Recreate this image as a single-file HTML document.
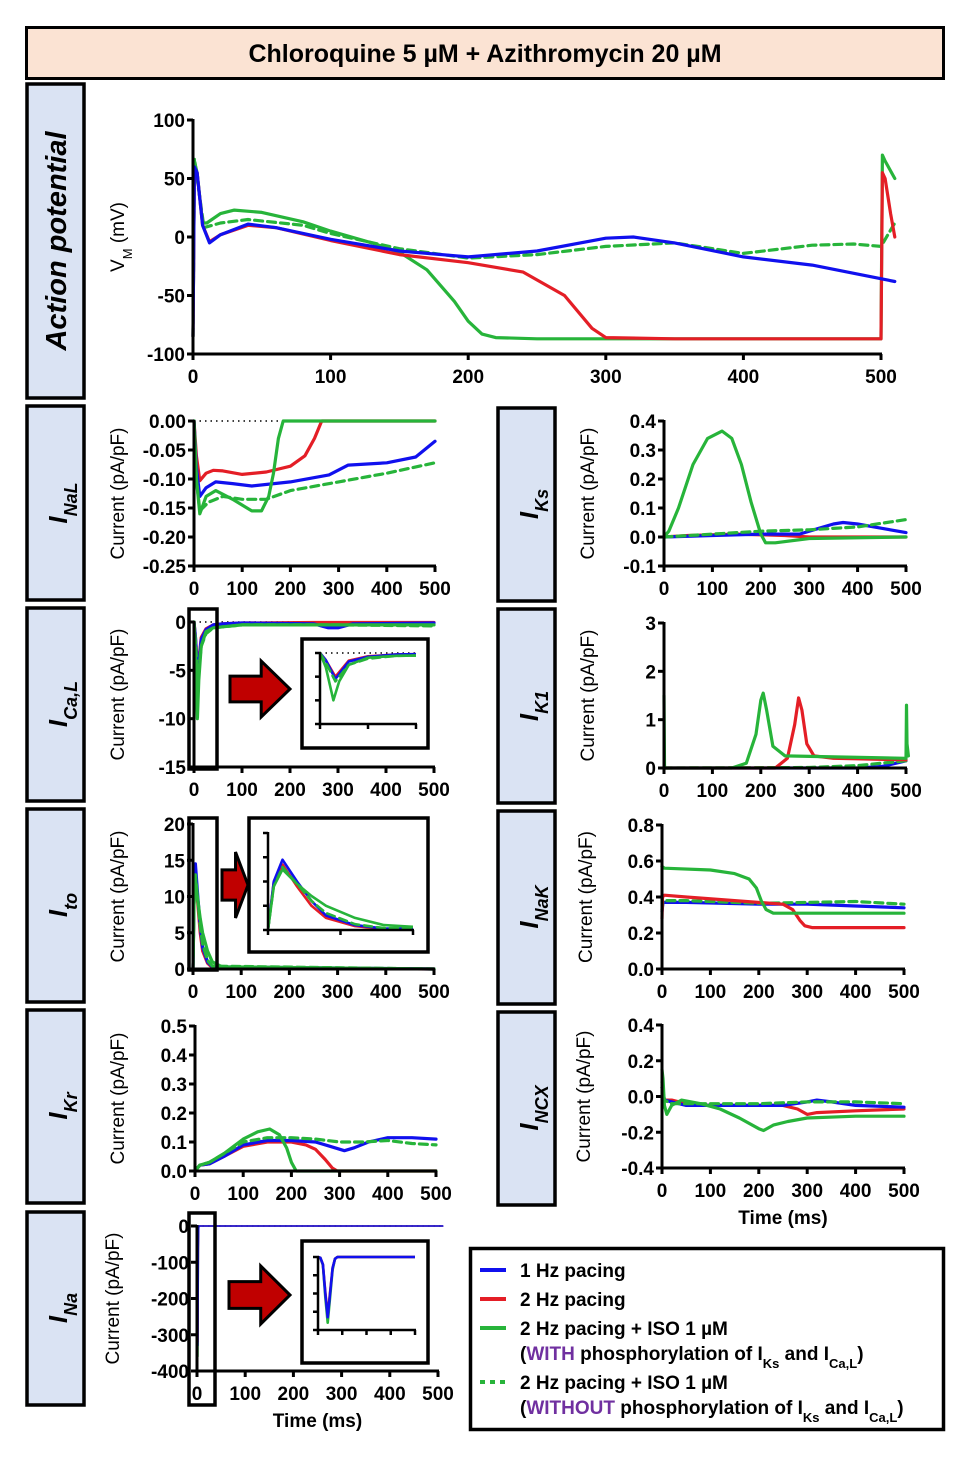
<!DOCTYPE html>
<html><head><meta charset="utf-8"><style>
html,body{margin:0;padding:0;background:#fff}
svg{display:block}
text{font-family:"Liberation Sans",Arial,sans-serif}
.tk{font-weight:bold;font-size:19px}
.yl{font-size:19px}
.lb{font-weight:bold;font-style:italic;font-size:26px}
.lg{font-weight:bold;font-size:19px}
</style></head><body>
<svg id="fig" width="974" height="1470" viewBox="0 0 974 1470" xmlns="http://www.w3.org/2000/svg">
<rect x="26.5" y="27.5" width="917" height="51" fill="#fbe3d3" stroke="#000" stroke-width="3"/>
<text x="485" y="62" text-anchor="middle" style="font-weight:bold;font-size:25px">Chloroquine 5 µM + Azithromycin 20 µM</text>

<g fill="#dae3f3" stroke="#000" stroke-width="3.5">
<rect x="27" y="84" width="57" height="314"/>
<rect x="27" y="406" width="57" height="194"/>
<rect x="27" y="608" width="57" height="193"/>
<rect x="27" y="809" width="57" height="193"/>
<rect x="27" y="1010" width="57" height="193"/>
<rect x="27" y="1212" width="57" height="193"/>
<rect x="498" y="408" width="57" height="193"/>
<rect x="498" y="609" width="57" height="194"/>
<rect x="498" y="811" width="57" height="193"/>
<rect x="498" y="1012" width="57" height="193"/>
</g>
<g class="lb">
<text transform="translate(66,241) rotate(-90)" text-anchor="middle" style="font-size:29px">Action potential</text>
<text transform="translate(67,503) rotate(-90)" text-anchor="middle">I<tspan baseline-shift="sub" style="font-size:18px">NaL</tspan></text>
<text transform="translate(67,704) rotate(-90)" text-anchor="middle">I<tspan baseline-shift="sub" style="font-size:18px">Ca,L</tspan></text>
<text transform="translate(67,905) rotate(-90)" text-anchor="middle">I<tspan baseline-shift="sub" style="font-size:18px">to</tspan></text>
<text transform="translate(67,1106) rotate(-90)" text-anchor="middle">I<tspan baseline-shift="sub" style="font-size:18px">Kr</tspan></text>
<text transform="translate(67,1308) rotate(-90)" text-anchor="middle">I<tspan baseline-shift="sub" style="font-size:18px">Na</tspan></text>
<text transform="translate(538,504) rotate(-90)" text-anchor="middle">I<tspan baseline-shift="sub" style="font-size:18px">Ks</tspan></text>
<text transform="translate(538,706) rotate(-90)" text-anchor="middle">I<tspan baseline-shift="sub" style="font-size:18px">K1</tspan></text>
<text transform="translate(538,907) rotate(-90)" text-anchor="middle">I<tspan baseline-shift="sub" style="font-size:18px">NaK</tspan></text>
<text transform="translate(538,1108) rotate(-90)" text-anchor="middle">I<tspan baseline-shift="sub" style="font-size:18px">NCX</tspan></text>
</g>

<g id="plots"></g>

<g>
<rect x="470.5" y="1248.5" width="473" height="181" fill="#fff" stroke="#000" stroke-width="3.5"/>
<line x1="480" y1="1270" x2="506" y2="1270" stroke="#1010ee" stroke-width="4"/>
<text class="lg" x="520" y="1277">1 Hz pacing</text>
<line x1="480" y1="1299" x2="506" y2="1299" stroke="#e41e26" stroke-width="4"/>
<text class="lg" x="520" y="1306">2 Hz pacing</text>
<line x1="480" y1="1328" x2="506" y2="1328" stroke="#27b43a" stroke-width="4"/>
<text class="lg" x="520" y="1335">2 Hz pacing + ISO 1 µM</text>
<text class="lg" x="520" y="1360">(<tspan fill="#7030a0">WITH</tspan> phosphorylation of I<tspan baseline-shift="sub" style="font-size:13px">Ks</tspan> and I<tspan baseline-shift="sub" style="font-size:13px">Ca,L</tspan>)</text>
<line x1="480" y1="1382" x2="506" y2="1382" stroke="#27b43a" stroke-width="4" stroke-dasharray="5 5"/>
<text class="lg" x="520" y="1389">2 Hz pacing + ISO 1 µM</text>
<text class="lg" x="520" y="1414">(<tspan fill="#7030a0">WITHOUT</tspan> phosphorylation of I<tspan baseline-shift="sub" style="font-size:13px">Ks</tspan> and I<tspan baseline-shift="sub" style="font-size:13px">Ca,L</tspan>)</text>
</g>
</svg>
<script>
// ---- data (time in ms, values per series) ----
const apBlueT=[0,1,3,7,12,20,40,60,100,150,200,250,300,320,350,400,450,510];
const apBlueV=[-85,60,55,10,-5,2,11,8,-2,-12,-17,-12,-1,0,-5,-17,-24,-38];
const apRedT=[0,1,3,7,12,20,40,60,100,150,200,240,270,290,300,350,500,501,503,507,510];
const apRedV=[-85,58,55,10,-4,2,10,8,-3,-15,-22,-30,-50,-78,-86,-87,-87,55,50,20,0];
const apGreenT=[0,1,3,7,10,20,30,50,80,100,130,150,170,190,200,210,220,250,500,501,503,510];
const apGreenV=[-85,65,55,12,12,20,23,21,13,5,-5,-13,-28,-55,-72,-83,-86,-87,-87,70,65,50];
const apDashT=[0,1,3,8,20,40,80,100,150,200,250,300,350,400,450,480,500,510];
const apDashV=[-85,67,50,8,12,15,10,3,-10,-18,-15,-8,-5,-14,-7,-6,-8,12];

const inalRedT=[0,5,12,25,40,60,100,150,200,230,250,265,500];
const inalRedV=[0,-0.06,-0.103,-0.09,-0.085,-0.086,-0.092,-0.088,-0.078,-0.06,-0.03,0,0];
const inalBlueT=[0,5,12,25,45,80,120,200,280,320,400,460,500];
const inalBlueV=[0,-0.08,-0.13,-0.115,-0.105,-0.108,-0.112,-0.105,-0.093,-0.076,-0.072,-0.062,-0.035];
const inalGreenT=[0,5,12,25,45,80,120,140,155,165,175,185,500];
const inalGreenV=[0,-0.1,-0.16,-0.13,-0.12,-0.135,-0.155,-0.155,-0.13,-0.09,-0.03,0,0];
const inalDashT=[0,5,12,30,60,100,150,200,300,400,500];
const inalDashV=[0,-0.1,-0.155,-0.14,-0.13,-0.135,-0.135,-0.12,-0.105,-0.09,-0.072];

const icalBlueT=[0,3,8,15,25,40,60,100,250,280,300,330,500];
const icalBlueV=[0,-1.5,-5.5,-1.8,-0.8,-0.3,-0.2,-0.1,-0.2,-0.6,-0.6,-0.2,-0.1];
const icalRedT=[0,3,8,15,25,40,60,100,250,500];
const icalRedV=[0,-1.5,-5,-1.6,-0.7,-0.3,-0.2,-0.1,-0.05,-0.05];
const icalGreenT=[0,3,7,10,15,25,40,60,100,500];
const icalGreenV=[0,-3,-10,-6,-2.5,-1,-0.6,-0.5,-0.3,-0.3];
const icalDashT=[0,3,8,15,25,40,100,300,500];
const icalDashV=[0,-2,-6,-2.5,-1.2,-0.6,-0.3,-0.3,-0.4];

const itoBlueT=[0,2,5,10,15,20,30,40,500];
const itoBlueV=[0,10,14.5,10,6,3,1,0.3,0];
const itoRedT=[0,2,5,10,15,20,30,40,500];
const itoRedV=[0,10,13.5,9,5,2.5,0.8,0.2,0];
const itoGreenT=[0,2,5,10,15,20,30,40,60,500];
const itoGreenV=[0,9,12.5,9.5,7,5,2.5,1,0.3,0];
const itoDashT=[0,2,5,10,15,20,30,40,500];
const itoDashV=[0,9,13,9.5,6,3.5,1.2,0.4,0];

const ikrBlueT=[0,10,30,60,100,150,200,250,280,310,330,360,400,450,500];
const ikrBlueV=[0,0.02,0.025,0.05,0.09,0.105,0.105,0.1,0.085,0.07,0.08,0.1,0.115,0.115,0.11];
const ikrRedT=[0,10,30,60,100,150,200,230,250,270,285,295,500];
const ikrRedV=[0,0.02,0.025,0.05,0.085,0.1,0.1,0.09,0.075,0.04,0.01,0,0];
const ikrGreenT=[0,10,30,60,100,130,155,175,190,200,210,500];
const ikrGreenV=[0,0.02,0.03,0.06,0.11,0.135,0.145,0.125,0.08,0.03,0,0];
const ikrDashT=[0,10,30,60,100,150,200,250,300,350,400,450,500];
const ikrDashV=[0,0.02,0.03,0.06,0.1,0.115,0.115,0.11,0.1,0.1,0.105,0.095,0.09];

const inaBlueT=[0,0.5,1,1.5,2,2.5,3,3.5,4,510];
const inaBlueV=[0,-5,-40,-200,-330,-200,-60,-10,0,0];
const inaRedT=[0,0.5,1,1.5,2,2.5,3,3.5,4,510];
const inaRedV=[0,-5,-40,-190,-320,-190,-60,-10,0,0];
const inaGreenT=[0,0.5,1,1.5,2,2.5,3,3.5,4,510];
const inaGreenV=[0,-5,-45,-220,-360,-220,-70,-10,0,0];

const iksGreenT=[0,10,30,60,90,120,140,160,180,200,210,230,300,500];
const iksGreenV=[0,0.02,0.1,0.25,0.34,0.365,0.34,0.25,0.12,0.01,-0.02,-0.02,-0.005,0];
const iksRedT=[0,50,150,250,300,500];
const iksRedV=[0,0.005,0.01,0.005,0,0];
const iksBlueT=[0,100,200,280,320,350,370,400,450,500];
const iksBlueV=[0,0.005,0.01,0.01,0.03,0.045,0.05,0.045,0.03,0.015];
const iksDashT=[0,100,200,300,400,500];
const iksDashV=[0,0.01,0.02,0.025,0.035,0.06];

const ik1GreenT=[0,1,2,5,140,170,190,200,205,212,225,250,500,501,502,505];
const ik1GreenV=[1.5,0.05,0,0,0,0.1,0.7,1.4,1.55,1.2,0.45,0.25,0.2,1.3,0.5,0.25];
const ik1RedT=[0,230,255,270,278,285,295,310,350,500];
const ik1RedV=[0,0,0.2,0.9,1.45,1.2,0.5,0.25,0.2,0.17];
const ik1BlueT=[0,400,450,500];
const ik1BlueV=[0,0,0.03,0.15];
const ik1DashT=[0,300,400,500];
const ik1DashV=[0,0.01,0.05,0.15];

const inakGreenT=[0,5,100,150,180,195,205,215,230,500];
const inakGreenV=[0.57,0.56,0.55,0.53,0.5,0.45,0.38,0.33,0.31,0.31];
const inakRedT=[0,1,5,50,150,250,270,285,295,310,500];
const inakRedV=[0.28,0.4,0.41,0.4,0.38,0.36,0.33,0.27,0.24,0.23,0.23];
const inakBlueT=[0,2,50,200,300,400,500];
const inakBlueV=[0.32,0.37,0.37,0.36,0.36,0.35,0.34];
const inakDashT=[0,2,50,200,300,400,500];
const inakDashV=[0.33,0.38,0.38,0.365,0.37,0.375,0.36];

const incxGreenT=[0,2,5,10,20,40,80,120,160,200,210,230,260,300,400,500];
const incxGreenV=[0.15,0.1,-0.05,-0.1,-0.05,-0.02,-0.04,-0.07,-0.12,-0.18,-0.19,-0.16,-0.14,-0.12,-0.11,-0.11];
const incxRedT=[0,5,20,50,100,150,200,250,280,300,320,400,500];
const incxRedV=[0.05,-0.02,-0.02,-0.04,-0.05,-0.05,-0.05,-0.05,-0.07,-0.1,-0.09,-0.08,-0.07];
const incxBlueT=[0,5,20,50,100,150,200,250,300,320,350,400,500];
const incxBlueV=[0.05,-0.02,-0.03,-0.05,-0.05,-0.05,-0.05,-0.05,-0.03,-0.02,-0.03,-0.05,-0.06];
const incxDashT=[0,5,20,50,100,200,300,400,500];
const incxDashV=[0.08,-0.02,-0.04,-0.04,-0.04,-0.04,-0.03,-0.03,-0.04];

const xTicks500=[0,100,200,300,400,500];
const apYTicks=[100,50,0,-50,-100];
const inalYTicks=[0,-0.05,-0.1,-0.15,-0.2,-0.25];
const inalYLabels=["0.00","-0.05","-0.10","-0.15","-0.20","-0.25"];
const icalYTicks=[0,-5,-10,-15];
const itoYTicks=[0,5,10,15,20];
const ikrYTicks=[0,0.1,0.2,0.3,0.4,0.5];
const ikrYLabels=["0.0","0.1","0.2","0.3","0.4","0.5"];
const inaYTicks=[0,-100,-200,-300,-400];
const iksYTicks=[0.4,0.3,0.2,0.1,0,-0.1];
const iksYLabels=["0.4","0.3","0.2","0.1","0.0","-0.1"];
const ik1YTicks=[0,1,2,3];
const inakYTicks=[0,0.2,0.4,0.6,0.8];
const inakYLabels=["0.0","0.2","0.4","0.6","0.8"];
const incxYTicks=[0.4,0.2,0,-0.2,-0.4];
const incxYLabels=["0.4","0.2","0.0","-0.2","-0.4"];

// ---- drawing ----
const NS="http://www.w3.org/2000/svg";
const BLUE="#1010ee",RED="#e41e26",GREEN="#27b43a";
const root=document.getElementById('plots');
let clipN=0;
function mk(tag,attrs,parent){const e=document.createElementNS(NS,tag);for(const k in attrs)e.setAttribute(k,attrs[k]);(parent||root).appendChild(e);return e;}

function chart(name,c,series){
  const g=mk('g',{});
  
  
  const sx=v=>c.px0+(v-c.xmin)/(c.xmax-c.xmin)*(c.px1-c.px0);
  const sy=v=>c.py1-(v-c.ymin)/(c.ymax-c.ymin)*(c.py1-c.py0);
  const lw=c.inset?2.5:3;
  const tl=c.inset?5:6;
  let sg=g;
  if(c.clip){
    const id='cl'+(clipN++);
    const cp=mk('clipPath',{id:id},g);
    mk('rect',{x:c.px0,y:c.py0-6,width:c.px1-c.px0,height:c.py1-c.py0+8},cp);
    sg=mk('g',{'clip-path':'url(#'+id+')'},g);
  }
  if(c.zero!==undefined){
    const z=mk('line',{x1:sx(c.xmin),x2:sx(c.zeroEnd!==undefined?c.zeroEnd:c.xmax),y1:sy(c.zero),y2:sy(c.zero),stroke:'#000','stroke-width':1.5,'stroke-dasharray':'1.5 4'},sg);
    
    
  }
  series.forEach(s=>{
    let d='';
    for(let i=0;i<s.t.length;i++){d+=(i?'L':'M')+sx(s.t[i]).toFixed(1)+','+sy(s.v[i]).toFixed(1);}
    const p=mk('path',{d:d,fill:'none',stroke:s.color,'stroke-width':s.w||(c.inset?2.6:3.2),'stroke-linejoin':'round','stroke-linecap':'round'},sg);
    if(s.dash)p.setAttribute('stroke-dasharray','8 5');
    
    
  });
  const yax=mk('line',{x1:c.px0,x2:c.px0,y1:c.py0-1,y2:c.py1+lw/2,stroke:'#000','stroke-width':lw},g);
  
  
  const xax=mk('line',{x1:c.px0-lw/2,x2:c.px1+1,y1:c.py1,y2:c.py1,stroke:'#000','stroke-width':lw},g);
  
  
  c.yticks.forEach((v,i)=>{
    const y=sy(v);
    const tk=mk('line',{x1:c.px0-tl,x2:c.px0,y1:y,y2:y,stroke:'#000','stroke-width':lw},g);
    
    
    if(!c.inset){
      const t=mk('text',{x:c.px0-8,y:y+7,'text-anchor':'end',class:'tk'},g);
      t.textContent=c.ylabels?c.ylabels[i]:String(v);
      
      
    }
  });
  c.xticks.forEach(v=>{
    const x=sx(v);
    const tk=mk('line',{x1:x,x2:x,y1:c.py1,y2:c.py1+tl,stroke:'#000','stroke-width':lw},g);
    
    
    if(!c.inset){
      const t=mk('text',{x:x,y:c.py1+29,'text-anchor':'middle',class:'tk'},g);
      t.textContent=String(v);
      
      
    }
  });
  if(c.ytitle){
    const t=mk('text',{transform:'translate('+c.ytx+','+((c.py0+c.py1)/2)+') rotate(-90)','text-anchor':'middle',class:'yl'},g);
    t.textContent=c.ytitle;
    
    
  }
  if(c.xtitle){
    const t=mk('text',{x:(c.px0+c.px1)/2,y:c.py1+56,'text-anchor':'middle',class:'tk'},g);
    t.textContent=c.xtitle;
    
    
  }
  return g;
}
function S(name,t,v,color,dash,w){return {name:name,t:t,v:v,color:color,dash:!!dash,w:w};}
const CUR="Current (pA/pF)";

const ap=chart('action-potential-chart',{px0:193,px1:881,py0:120,py1:354,xmin:0,xmax:500,ymin:-100,ymax:100,xticks:xTicks500,yticks:apYTicks},
 [S('ap-2hz-iso-with',apGreenT,apGreenV,GREEN),S('ap-2hz-iso-without',apDashT,apDashV,GREEN,1),S('ap-2hz',apRedT,apRedV,RED),S('ap-1hz',apBlueT,apBlueV,BLUE)]);
{const t=mk('text',{transform:'translate(124,237) rotate(-90)','text-anchor':'middle',class:'yl'},ap);
 t.innerHTML='V<tspan baseline-shift="sub" style="font-size:13px">M</tspan> (mV)';
 
 }

chart('inal-chart',{px0:194,px1:435,py0:421,py1:566,xmin:0,xmax:500,ymin:-0.25,ymax:0,xticks:xTicks500,yticks:inalYTicks,ylabels:inalYLabels,ytitle:CUR,ytx:124,zero:0},
 [S('inal-2hz',inalRedT,inalRedV,RED),S('inal-1hz',inalBlueT,inalBlueV,BLUE),S('inal-2hz-iso-with',inalGreenT,inalGreenV,GREEN),S('inal-2hz-iso-without',inalDashT,inalDashV,GREEN,1)]);

const icalS=()=>[S('ical-2hz',icalRedT,icalRedV,RED),S('ical-1hz',icalBlueT,icalBlueV,BLUE),S('ical-2hz-iso-with',icalGreenT,icalGreenV,GREEN),S('ical-2hz-iso-without',icalDashT,icalDashV,GREEN,1)];
chart('ical-chart',{px0:194,px1:434,py0:622,py1:767,xmin:0,xmax:500,ymin:-15,ymax:0,xticks:xTicks500,yticks:icalYTicks,ytitle:CUR,ytx:124,zero:0},icalS());

const itoS=()=>[S('ito-2hz',itoRedT,itoRedV,RED),S('ito-1hz',itoBlueT,itoBlueV,BLUE),S('ito-2hz-iso-without',itoDashT,itoDashV,GREEN,1),S('ito-2hz-iso-with',itoGreenT,itoGreenV,GREEN)];
chart('ito-chart',{px0:193,px1:434,py0:824,py1:969,xmin:0,xmax:500,ymin:0,ymax:20,xticks:xTicks500,yticks:itoYTicks,ytitle:CUR,ytx:124},itoS());

chart('ikr-chart',{px0:195,px1:436,py0:1026,py1:1171,xmin:0,xmax:500,ymin:0,ymax:0.5,xticks:xTicks500,yticks:ikrYTicks,ylabels:ikrYLabels,ytitle:CUR,ytx:124},
 [S('ikr-2hz',ikrRedT,ikrRedV,RED),S('ikr-1hz',ikrBlueT,ikrBlueV,BLUE),S('ikr-2hz-iso-without',ikrDashT,ikrDashV,GREEN,1),S('ikr-2hz-iso-with',ikrGreenT,ikrGreenV,GREEN)]);

const inaS=w=>[S('ina-2hz-iso-with',inaGreenT,inaGreenV,GREEN,0,w),S('ina-2hz',inaRedT,inaRedV,RED,0,w),S('ina-1hz',inaBlueT,inaBlueV,BLUE,0,w)];
chart('ina-chart',{px0:197,px1:438,py0:1226,py1:1371,xmin:0,xmax:500,ymin:-400,ymax:0,xticks:xTicks500,yticks:inaYTicks,ytitle:CUR,ytx:119,xtitle:'Time (ms)',zero:0,zeroEnd:510},inaS(1.5));

chart('iks-chart',{px0:664,px1:906,py0:421,py1:566,xmin:0,xmax:500,ymin:-0.1,ymax:0.4,xticks:xTicks500,yticks:iksYTicks,ylabels:iksYLabels,ytitle:CUR,ytx:594},
 [S('iks-2hz',iksRedT,iksRedV,RED),S('iks-1hz',iksBlueT,iksBlueV,BLUE),S('iks-2hz-iso-without',iksDashT,iksDashV,GREEN,1),S('iks-2hz-iso-with',iksGreenT,iksGreenV,GREEN)]);

chart('ik1-chart',{px0:664,px1:906,py0:623,py1:768,xmin:0,xmax:500,ymin:0,ymax:3,xticks:xTicks500,yticks:ik1YTicks,ytitle:CUR,ytx:594},
 [S('ik1-1hz',ik1BlueT,ik1BlueV,BLUE),S('ik1-2hz-iso-without',ik1DashT,ik1DashV,GREEN,1),S('ik1-2hz',ik1RedT,ik1RedV,RED),S('ik1-2hz-iso-with',ik1GreenT,ik1GreenV,GREEN)]);

chart('inak-chart',{px0:662,px1:904,py0:825,py1:969,xmin:0,xmax:500,ymin:0,ymax:0.8,xticks:xTicks500,yticks:inakYTicks,ylabels:inakYLabels,ytitle:CUR,ytx:592},
 [S('inak-1hz',inakBlueT,inakBlueV,BLUE),S('inak-2hz-iso-without',inakDashT,inakDashV,GREEN,1),S('inak-2hz',inakRedT,inakRedV,RED),S('inak-2hz-iso-with',inakGreenT,inakGreenV,GREEN)]);

chart('incx-chart',{px0:662,px1:904,py0:1025,py1:1168,xmin:0,xmax:500,ymin:-0.4,ymax:0.4,xticks:xTicks500,yticks:incxYTicks,ylabels:incxYLabels,ytitle:CUR,ytx:590,xtitle:'Time (ms)'},
 [S('incx-2hz',incxRedT,incxRedV,RED),S('incx-1hz',incxBlueT,incxBlueV,BLUE),S('incx-2hz-iso-without',incxDashT,incxDashV,GREEN,1),S('incx-2hz-iso-with',incxGreenT,incxGreenV,GREEN)]);

function box(name,x,y,w,h){const r=mk('rect',{x:x,y:y,width:w,height:h,fill:'none',stroke:'#000','stroke-width':3.5});return r;}
function wbox(name,x,y,w,h){const r=mk('rect',{x:x,y:y,width:w,height:h,fill:'#fff',stroke:'#000','stroke-width':3.5});return r;}
function arrow(name,x,y,w,h){
  const bw=w*0.52,bt=h*0.27;
  const d='M'+x+','+(y+bt)+'L'+(x+bw)+','+(y+bt)+'L'+(x+bw)+','+y+'L'+(x+w)+','+(y+h/2)+'L'+(x+bw)+','+(y+h)+'L'+(x+bw)+','+(y+h-bt)+'L'+x+','+(y+h-bt)+'Z';
  const p=mk('path',{d:d,fill:'#c00000',stroke:'#000','stroke-width':3,'stroke-linejoin':'miter'});
  
}
box('ical-zoom-region',189,609,28,160);
wbox('ical-inset-box',302,639,126,109);
chart('ical-inset',{inset:1,clip:1,px0:320,px1:416,py0:653,py1:724,xmin:0,xmax:50,ymin:-15,ymax:0,xticks:[0,25,50],yticks:icalYTicks,zero:0},icalS());
arrow('ical-zoom-arrow',230,661,60,56);

box('ito-zoom-region',189,818,28,152);
wbox('ito-inset-box',249,818,179,134);
chart('ito-inset',{inset:1,clip:1,px0:268,px1:413,py0:833,py1:930,xmin:0,xmax:50,ymin:0,ymax:20,xticks:[0,25,50],yticks:itoYTicks},itoS());
arrow('ito-zoom-arrow',222,852,26,66);

box('ina-zoom-region',189,1213,26,192);
wbox('ina-inset-box',302,1241,126,122);
chart('ina-inset',{inset:1,clip:1,px0:318,px1:415,py0:1257,py1:1330,xmin:0,xmax:20,ymin:-400,ymax:0,xticks:[0,5,10,15,20],yticks:inaYTicks},inaS());
arrow('ina-zoom-arrow',229,1266,61,58);
</script>
</body></html>
